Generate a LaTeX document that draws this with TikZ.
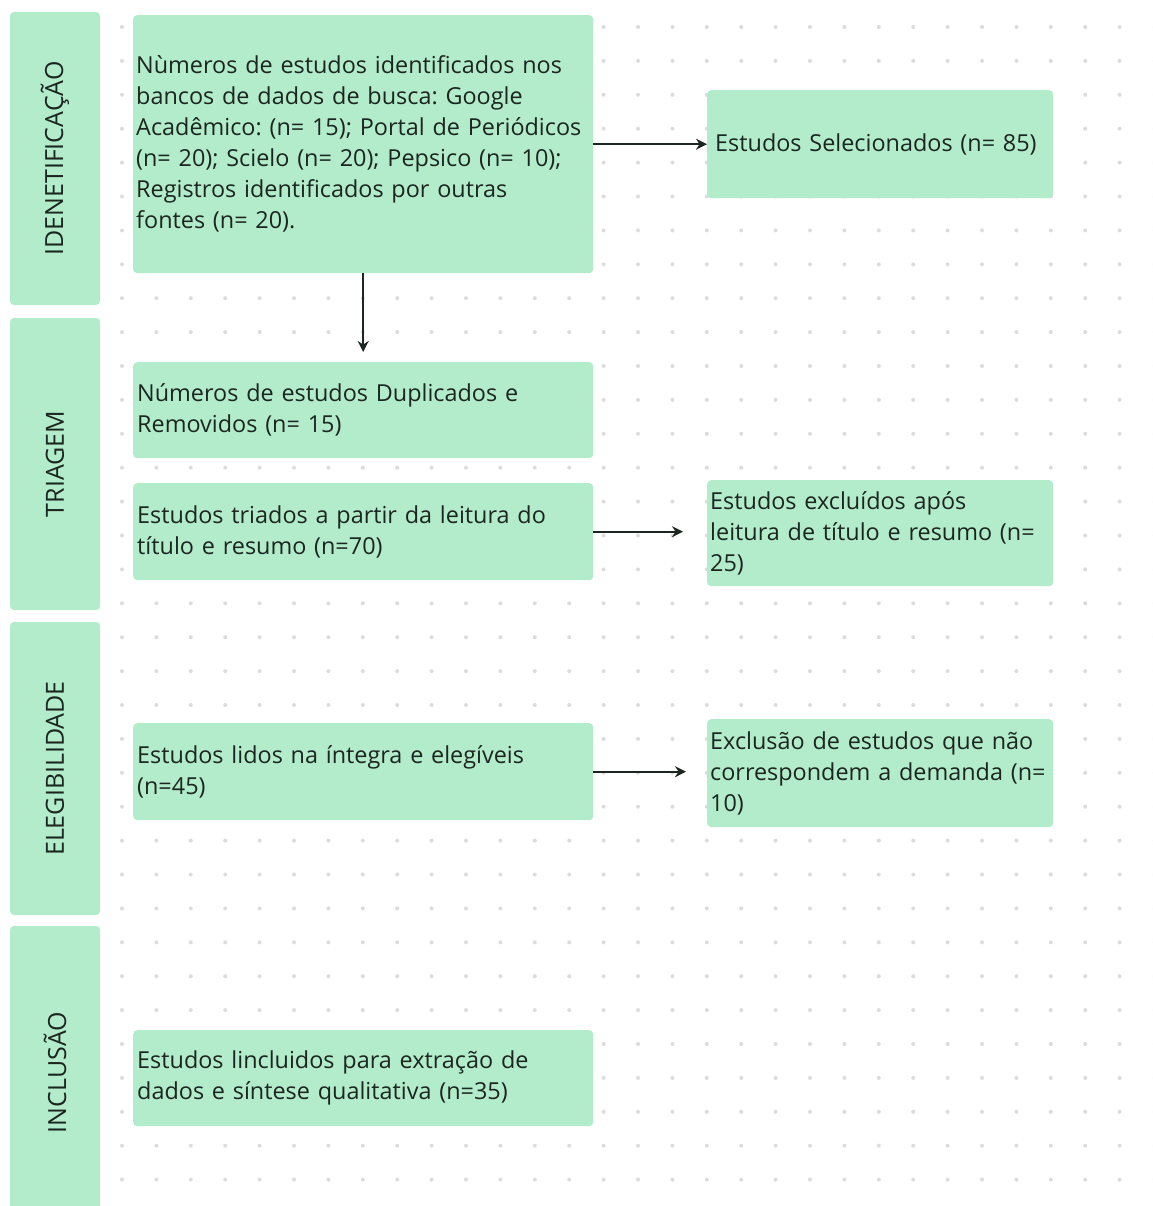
\documentclass[tikz,border=0pt]{standalone}
\usepackage{fontspec}
\setmainfont{Open Sans}
\usetikzlibrary{arrows.meta}
\definecolor{boxgreen}{HTML}{B3ECCA}
\definecolor{txt}{HTML}{1C2620}
\definecolor{dotgray}{HTML}{DCDCDC}
\tikzset{
  stage/.style={fill=boxgreen, rounded corners=4pt, inner sep=0pt, minimum height=90pt, rotate=90, text=txt, font=\fontsize{25}{28}\selectfont},
  box/.style={fill=boxgreen, rounded corners=4pt, inner xsep=4pt, inner ysep=0pt, align=left, anchor=north west, text=txt, font=\fontsize{23.4}{31}\selectfont\frenchspacing},
  arr/.style={line width=2pt, draw=txt, -{Stealth[length=11pt,width=11pt]}}
}
\begin{document}
\begin{tikzpicture}[x=1pt,y=-1pt]
    \path[use as bounding box, clip] (0,0) rectangle (1152,1206);
    \fill[white] (0,0) rectangle (1152,1206);
    \foreach \i in {0,...,30}
      \foreach \j in {0,...,35}
        \fill[dotgray] (122+34.4*\i, 27+33.9*\j) circle (2pt);

    \node[stage, minimum width=293pt] (fid) at (55,158.5) {IDENETIFICAÇÃO};
    \node[stage, minimum width=292pt] (ftr) at (55,464) {TRIAGEM};
    \node[stage, minimum width=293pt] (fel) at (55,768.5) {ELEGIBILIDADE};
    \node[stage, minimum width=293pt] (fin) at (55,1072.5) {INCLUSÃO};

    \node[box, text width=454pt, minimum height=258pt, inner xsep=3pt] (idn) at (133,15)
      {Nùmeros de estudos identificados nos\\ bancos de dados de busca: Google\\ Acadêmico: (n= 15); Portal de Periódicos\\ (n= 20); Scielo (n= 20); Pepsico (n= 10);\\ Registros identificados por outras\\ fontes (n= 20).};
    \node[box, text width=340pt, minimum height=108pt, inner xsep=3pt] (sel) at (707,90)
      {\hspace*{5pt}Estudos Selecionados (n= 85)};
    \node[box, text width=452pt, minimum height=96pt] (dup) at (133,362)
      {Números de estudos Duplicados e\\ Removidos (n= 15)};
    \node[box, text width=452pt, minimum height=97pt] (tri) at (133,483)
      {Estudos triados a partir da leitura do\\ título e resumo (n=70)};
    \node[box, text width=340pt, minimum height=106pt, inner xsep=3pt] (exc) at (707,480)
      {Estudos excluídos após\\ leitura de título e resumo (n=\\ 25)};
    \node[box, text width=452pt, minimum height=97pt] (lid) at (133,723)
      {Estudos lidos na íntegra e elegíveis\\ (n=45)};
    \node[box, text width=340pt, minimum height=108pt, inner xsep=3pt] (exd) at (707,719)
      {Exclusão de estudos que não\\ correspondem a demanda (n=\\ 10)};
    \node[box, text width=452pt, minimum height=96pt] (inc) at (133,1030)
      {Estudos lincluidos para extração de\\ dados e síntese qualitativa (n=35)};

    \draw[arr] (idn) -- (sel);
    \draw[arr, shorten >=10pt] (idn) -- (dup);
    \draw[arr, shorten >=24pt] (tri.east) -- (tri.east -| exc.west);
    \draw[arr, shorten >=21pt] (lid.east) -- (lid.east -| exd.west);
\end{tikzpicture}
\end{document}
